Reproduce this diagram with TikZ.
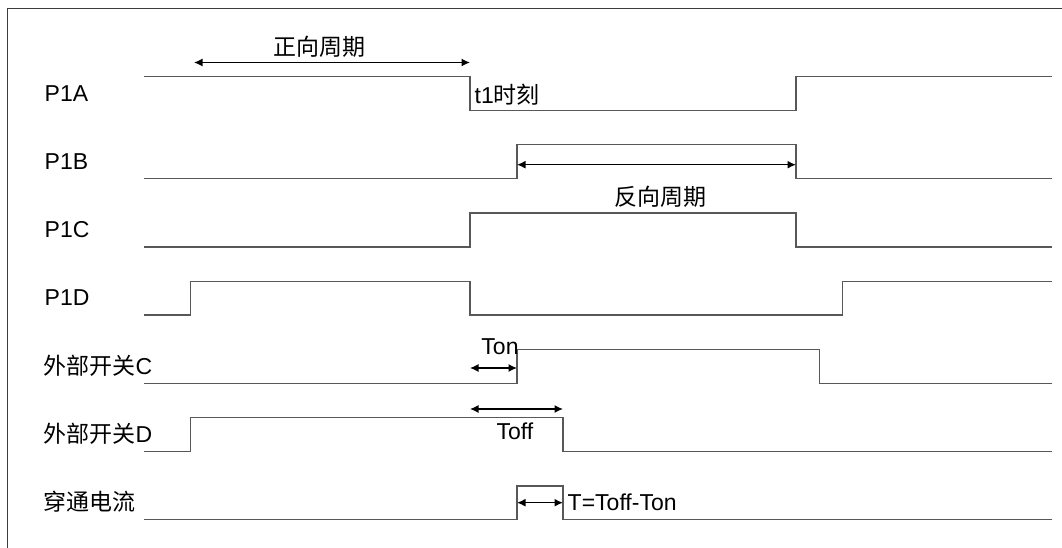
\documentclass[tikz,border=0pt]{standalone}
\usepackage{fontspec}
\setmainfont{Liberation Sans}
\newfontfamily\cjk{Noto Sans CJK SC}
\usetikzlibrary{arrows.meta}
\definecolor{sigc}{HTML}{585858}
\definecolor{framec}{HTML}{3C3C3C}
\begin{document}
\begin{tikzpicture}[x=1pt,y=-1pt,
  sig/.style={draw=sigc, line width=1.35pt},
  dimarrow/.style={{Latex[length=8.5pt,width=8pt]}-{Latex[length=8.5pt,width=8pt]}, line width=1.4pt, draw=black},
  lbl/.style={font=\fontsize{23}{27}\selectfont, inner sep=0pt, text=black}]
\useasboundingbox (0,0) rectangle (1062,548);
% frame
\draw[framec, line width=1.4pt] (7.2,548) -- (7.2,8.3) -- (1062,8.3);
% row labels
\node[lbl, anchor=base west] (lA) at (44.5,101.7) {P1A};
\node[lbl, anchor=base west] (lB) at (44.5,169.5) {P1B};
\node[lbl, anchor=base west] (lC) at (44.5,237.7) {P1C};
\node[lbl, anchor=base west] (lD) at (44.5,305.8) {P1D};
\node[lbl, anchor=base west] (lSC) at (43.5,374.8) {{\cjk 外部开关}C};
\node[lbl, anchor=base west] (lSD) at (43.5,442.7) {{\cjk 外部开关}D};
\node[lbl, anchor=base west] (lI) at (43.5,510.5) {\cjk 穿通电流};
% waveforms
\draw[sig] (143.8,76.3) -- (470,76.3) -- (470,110.3) -- (796,110.3) -- (796,76.3) -- (1052,76.3);
\draw[sig] (143.8,178.7) -- (517,178.7) -- (517,144.7) -- (796,144.7) -- (796,178.7) -- (1052,178.7);
\draw[sig] (143.8,247) -- (470,247) -- (470,213) -- (796,213) -- (796,247) -- (1052,247);
\draw[sig] (143.8,315) -- (190.7,315) -- (190.7,281.7) -- (470,281.7) -- (470,315) -- (842.8,315) -- (842.8,281.7) -- (1052,281.7);
\draw[sig] (143.8,383.3) -- (517,383.3) -- (517,349.3) -- (819.8,349.3) -- (819.8,383.3) -- (1052,383.3);
\draw[sig] (143.8,451.7) -- (190.7,451.7) -- (190.7,417.3) -- (563,417.3) -- (563,451.7) -- (1052,451.7);
\draw[sig] (143.8,519.3) -- (517,519.3) -- (517,486) -- (563,486) -- (563,519.3) -- (1052,519.3);
% arrow end points
\coordinate (fa1) at (194,62.5);
\coordinate (fa2) at (470,62.5);
\coordinate (ra1) at (517,164.7);
\coordinate (ra2) at (796,164.7);
\coordinate (on1) at (470,368);
\coordinate (on2) at (517,368);
\coordinate (of1) at (470,409);
\coordinate (of2) at (563,409);
\coordinate (tt1) at (517,502.7);
\coordinate (tt2) at (563,502.7);
\draw[dimarrow] (fa1) -- (fa2);
\draw[dimarrow] (ra1) -- (ra2);
\draw[dimarrow] (on1) -- (on2);
\draw[dimarrow] (of1) -- (of2);
\draw[dimarrow] (tt1) -- (tt2);
% annotations
\node[lbl] (fz) at (319,46.7) {\cjk 正向周期};
\node[lbl] (fx) at (660,196.7) {\cjk 反向周期};
\node[lbl, anchor=west] (t1) at (474.5,94.3) {t1{\cjk 时刻}};
\node[lbl] (ton) at (500,346.7) {Ton};
\node[lbl] (toff) at (515,431.5) {Toff};
\node[lbl, anchor=west] (tt) at (567.5,502.7) {T=Toff-Ton};
\end{tikzpicture}
\end{document}
